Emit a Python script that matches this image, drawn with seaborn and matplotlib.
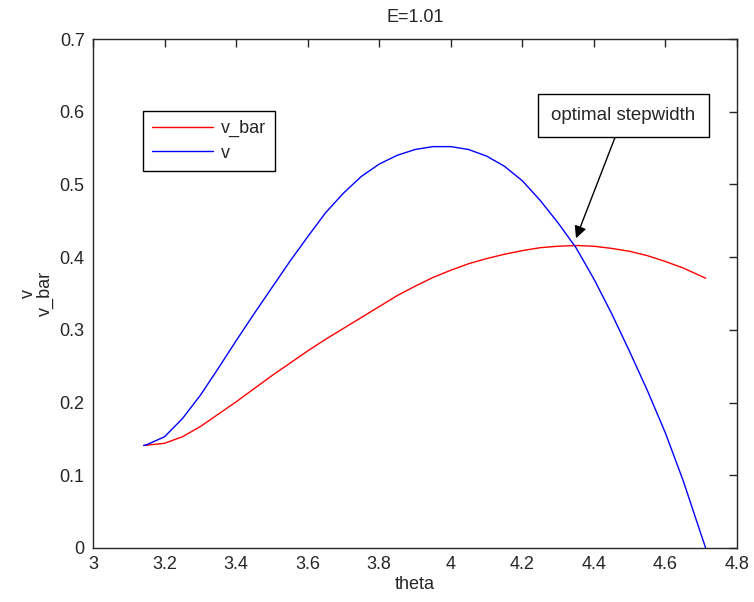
import numpy as np
import pandas as pd
import matplotlib
matplotlib.use("Agg")
import matplotlib.pyplot as plt
import seaborn as sns

# values
theta_v = [3.1416, 3.15, 3.2, 3.25, 3.3, 3.35, 3.4, 3.45, 3.5, 3.55, 3.6, 3.65, 3.7,
           3.75, 3.8, 3.85, 3.9, 3.95, 4.0, 4.05, 4.1, 4.15, 4.2, 4.25, 4.3, 4.35,
           4.4, 4.45, 4.5, 4.55, 4.6, 4.65, 4.7, 4.7124]
v = [0.141, 0.142, 0.153, 0.178, 0.210, 0.247, 0.285, 0.322, 0.358, 0.394, 0.428,
     0.461, 0.488, 0.511, 0.528, 0.540, 0.548, 0.552, 0.552, 0.548, 0.539, 0.525,
     0.505, 0.478, 0.447, 0.413, 0.370, 0.322, 0.270, 0.216, 0.158, 0.092, 0.018, 0.0]

theta_vbar = [3.1416, 3.2, 3.25, 3.3, 3.35, 3.4, 3.45, 3.5, 3.55, 3.6, 3.65, 3.7,
              3.75, 3.8, 3.85, 3.9, 3.95, 4.0, 4.05, 4.1, 4.15, 4.2, 4.25, 4.3,
              4.35, 4.4, 4.45, 4.5, 4.55, 4.6, 4.65, 4.7124]
v_bar = [0.141, 0.144, 0.153, 0.167, 0.184, 0.201, 0.219, 0.237, 0.254, 0.271, 0.287,
         0.302, 0.317, 0.332, 0.347, 0.360, 0.372, 0.382, 0.391, 0.398, 0.404, 0.409,
         0.413, 0.415, 0.416, 0.415, 0.412, 0.408, 0.402, 0.394, 0.385, 0.371]

xticks = [3, 3.2, 3.4, 3.6, 3.8, 4, 4.2, 4.4, 4.6, 4.8]
xticklabels = ["3", "3.2", "3.4", "3.6", "3.8", "4", "4.2", "4.4", "4.6", "4.8"]
yticks = [0, 0.1, 0.2, 0.3, 0.4, 0.5, 0.6, 0.7]
yticklabels = ["0", "0.1", "0.2", "0.3", "0.4", "0.5", "0.6", "0.7"]

sns.set_style("white")
plt.rcParams['font.family'] = ['Liberation Sans', 'DejaVu Sans']
plt.rcParams['font.size'] = 13
plt.rcParams['text.color'] = "#262626"

fig = plt.figure(figsize=(7.54, 6.02), dpi=100)
ax = fig.add_axes([93 / 754, 54 / 602, 644 / 754, 509 / 602])

df_vbar = pd.DataFrame({"theta": theta_vbar, "val": v_bar})
df_v = pd.DataFrame({"theta": theta_v, "val": v})
sns.lineplot(data=df_vbar, x="theta", y="val", color="#ff0000", lw=1, label="v_bar", ax=ax)
sns.lineplot(data=df_v, x="theta", y="val", color="#0000ff", lw=1, label="v", ax=ax)

ax.set_xlim(3, 4.8)
ax.set_ylim(0, 0.7)
ax.set_xticks(xticks)
ax.set_xticklabels(xticklabels)
ax.set_yticks(yticks)
ax.set_yticklabels(yticklabels)
ax.tick_params(direction="in", length=6, width=1, top=True, right=True,
               labelsize=13, colors="#262626", pad=6)
for s in ax.spines.values():
    s.set_color("#262626")
    s.set_linewidth(1)

ax.set_xlabel("theta", fontsize=13, labelpad=2, color="#262626")
ax.set_ylabel("v\nv_bar", fontsize=13, labelpad=4, linespacing=1.0, color="#262626")
ax.set_title("E=1.01", fontsize=13, pad=12, color="#262626")

leg = ax.legend(loc="upper left", bbox_to_anchor=(0.0776, 0.858), fancybox=False,
                edgecolor="black", framealpha=1, handlelength=3.4, handletextpad=0.4,
                borderpad=0.5, labelspacing=0.4, borderaxespad=0)
leg.get_frame().set_linewidth(1)

ax.annotate("optimal stepwidth", xy=(4.35, 0.426), xytext=(4.483, 0.595),
            ha="center", va="center", fontsize=13.5,
            bbox=dict(boxstyle="square,pad=0.7", fc="white", ec="black", lw=1),
            arrowprops=dict(arrowstyle="-|>", color="black", lw=1,
                            mutation_scale=18, shrinkA=0, shrinkB=0))

fig.savefig("out.png", dpi=100)
